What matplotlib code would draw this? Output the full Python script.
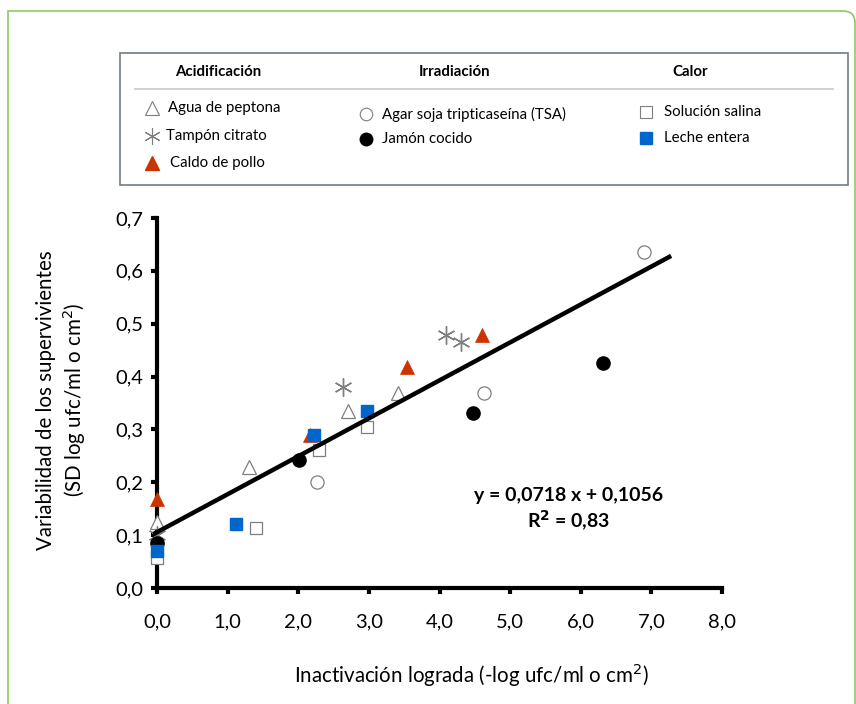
import matplotlib
matplotlib.use("Agg")
import matplotlib.pyplot as plt
from matplotlib.patches import PathPatch, Rectangle
from matplotlib.path import Path
from matplotlib.lines import Line2D

plt.rcParams['font.family'] = ['Lato', 'DejaVu Sans']

# --- datos ---
agua_x = [0.0, 1.30, 2.70, 3.41]
agua_y = [0.125, 0.229, 0.335, 0.368]
tampon_x = [0.0, 2.63, 4.09, 4.30]
tampon_y = [0.100, 0.380, 0.478, 0.465]
caldo_x = [0.0, 2.16, 3.54, 4.60]
caldo_y = [0.168, 0.289, 0.418, 0.478]
tsa_x = [2.27, 4.63, 6.90]
tsa_y = [0.200, 0.368, 0.635]
jamon_x = [0.0, 2.01, 4.47, 6.31]
jamon_y = [0.085, 0.242, 0.331, 0.426]
salina_x = [0.0, 1.40, 2.29, 2.97]
salina_y = [0.057, 0.113, 0.261, 0.305]
leche_x = [0.0, 1.12, 2.23, 2.98]
leche_y = [0.070, 0.121, 0.289, 0.335]

slope, intercept = 0.0718, 0.1056
fit_x = [-0.05, 7.28]
xticks = [0, 1, 2, 3, 4, 5, 6, 7, 8]
yticks = [0.0, 0.1, 0.2, 0.3, 0.4, 0.5, 0.6, 0.7]

GRAY = '#7f7f7f'
RED = '#cc3300'
BLUE = '#0066cc'
star = (6, 2, 0)
W, H = 856, 704

fig = plt.figure(figsize=(8.56, 7.04), dpi=100)

# marco verde: esquina sup. izq. recta, sup. der. redondeada
verts = [(8, H + 5), (8, 11), (843, 11), (855, 11), (855, 23), (855, H + 5)]
codes = [Path.MOVETO, Path.LINETO, Path.LINETO, Path.CURVE3, Path.CURVE3, Path.LINETO]
verts = [(vx / W, 1 - vy / H) for vx, vy in verts]
fig.patches.append(PathPatch(Path(verts, codes), transform=fig.transFigure,
                             fill=False, ec='#8cc866', lw=1.2))

ax = fig.add_axes([157 / W, 1 - 588 / H, (722 - 157) / W, (588 - 218) / H])

common = dict(ls='none', clip_on=False, zorder=3)
ax.plot(agua_x, agua_y, marker='^', ms=10.5, mfc='white', mec=GRAY, mew=0.9, **common)
ax.plot(tampon_x, tampon_y, marker=star, ms=13, mec=GRAY, mew=1.0, **common)
ax.plot(caldo_x, caldo_y, marker='^', ms=10.5, mfc=RED, mec=RED, mew=0.5, **common)
ax.plot(tsa_x, tsa_y, marker='o', ms=9.5, mfc='white', mec=GRAY, mew=0.9, **common)
ax.plot(jamon_x, jamon_y, marker='o', ms=9.5, mfc='black', mec='black', **common)
ax.plot(salina_x, salina_y, marker='s', ms=9, mfc='white', mec=GRAY, mew=0.9, **common)
ax.plot(leche_x, leche_y, marker='s', ms=9, mfc=BLUE, mec=BLUE, **common)

fit_y = [slope * v + intercept for v in fit_x]
ax.plot(fit_x, fit_y, color='black', lw=3.2, clip_on=False, zorder=4,
        solid_capstyle='butt')

ax.set_xlim(0, 8)
ax.set_ylim(0, 0.7)
ax.set_xticks(xticks)
ax.set_yticks(yticks)
ax.set_xticklabels([f"{v:.1f}".replace('.', ',') for v in xticks])
ax.set_yticklabels([f"{v:.1f}".replace('.', ',') for v in yticks])
for s in ('top', 'right'):
    ax.spines[s].set_visible(False)
for s in ('left', 'bottom'):
    ax.spines[s].set_linewidth(3)
ax.tick_params(axis='both', length=4, width=3, labelsize=14.5, color='black')
ax.tick_params(axis='x', pad=14)
ax.tick_params(axis='y', pad=6)

fig.text(472 / W, 1 - 675 / H, 'Inactivación lograda (-log ufc/ml o cm$^2$)',
         ha='center', va='center', fontsize=14.8)
fig.text(62 / W, 1 - 400 / H,
         'Variabilidad de los supervivientes\n(SD log ufc/ml o cm$^2$)',
         ha='center', va='center', rotation=90, fontsize=14.8, linespacing=1.2)

fig.text(569 / W, 1 - 495 / H, 'y = 0,0718 x + 0,1056', ha='center',
         va='center', fontsize=14, fontweight='bold')
fig.text(569 / W, 1 - 521 / H, 'R$^\\mathbf{2}$ = 0,83', ha='center',
         va='center', fontsize=14, fontweight='bold')

# --- leyenda ---
fig.patches.append(Rectangle((120 / W, 1 - 185 / H), (848 - 120) / W,
                             (185 - 53) / H, transform=fig.transFigure,
                             fill=False, ec='#6d7b88', lw=1.2))
fig.lines.append(Line2D([135 / W, 833 / W], [1 - 89 / H] * 2,
                        transform=fig.transFigure, color='#c8c8c8', lw=1.2))

headers = [('Acidificación', 218), ('Irradiación', 455), ('Calor', 690)]
for txt, xc in headers:
    fig.text(xc / W, 1 - 72 / H, txt, ha='center', va='center',
             fontsize=10.8, fontweight='bold')

entries = [
    (152, 108, 168, 'Agua de peptona', dict(marker='^', ms=10, mfc='white', mec=GRAY, mew=0.8)),
    (152, 136, 166, 'Tampón citrato', dict(marker=star, ms=12, mec=GRAY, mew=0.8)),
    (152, 163, 170, 'Caldo de pollo', dict(marker='^', ms=10, mfc=RED, mec=RED)),
    (366, 114, 382, 'Agar soja tripticaseína (TSA)', dict(marker='o', ms=9, mfc='white', mec=GRAY, mew=0.8)),
    (366, 139, 382, 'Jamón cocido', dict(marker='o', ms=9, mfc='black', mec='black')),
    (646, 112, 664, 'Solución salina', dict(marker='s', ms=8.5, mfc='white', mec=GRAY, mew=0.8)),
    (646, 138, 664, 'Leche entera', dict(marker='s', ms=8.5, mfc=BLUE, mec=BLUE)),
]
for mx, yy, tx, label, mk in entries:
    fig.lines.append(Line2D([mx / W], [1 - yy / H], transform=fig.transFigure,
                            ls='none', **mk))
    fig.text(tx / W, 1 - yy / H, label, ha='left', va='center', fontsize=10.8)

fig.savefig('out.png', dpi=100)
